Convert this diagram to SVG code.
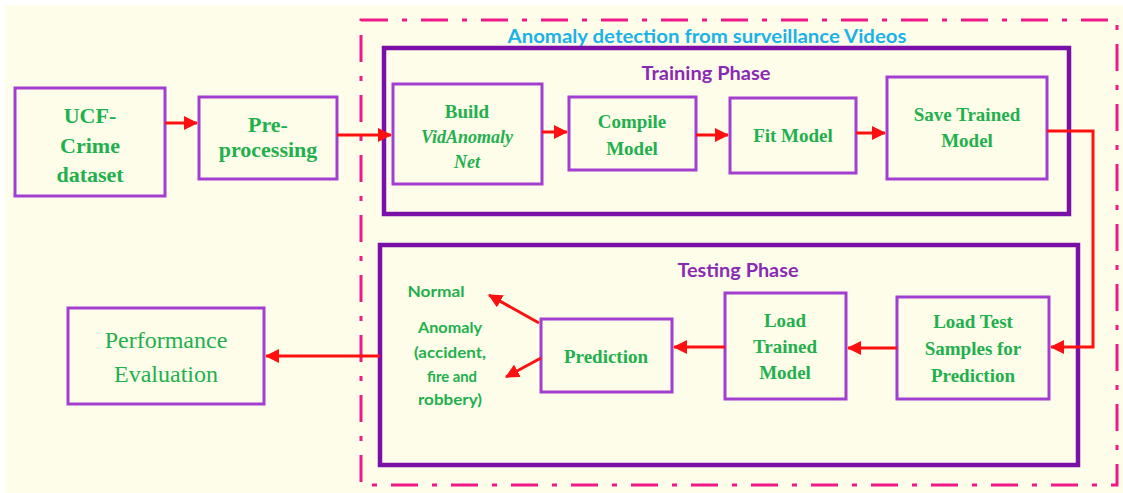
<svg xmlns="http://www.w3.org/2000/svg" width="1123" height="493" viewBox="0 0 1123 493">
  <style>
    .node { fill: none; stroke: #A23ED0; stroke-width: 3; }
    .phase { fill: none; stroke: #7B10A8; stroke-width: 4.5; }
    .lbl { font-family: "Liberation Serif", serif; font-weight: bold; fill: #22B04E; text-anchor: middle; }
    .small { font-family: Lato, "Open Sans", sans-serif; font-weight: bold; fill: #22B04E; text-anchor: middle; font-size: 16px; }
    .phaseTitle { font-family: Lato, "Open Sans", sans-serif; font-weight: bold; fill: #8A2AB4; text-anchor: middle; font-size: 18px; }
    .conn { fill: none; stroke: #FF1010; stroke-width: 3; }
  </style>
  <defs>
    <marker id="arrow" markerUnits="userSpaceOnUse" markerWidth="14" markerHeight="14" viewBox="0 0 14 14" refX="13" refY="7" orient="auto">
      <path d="M0,0 L14,7 L0,14 Z" fill="#FF1010"/>
    </marker>
  </defs>

  <!-- background -->
  <rect x="5" y="5" width="1118" height="488" fill="#FEFDE9"/>

  <!-- dash-dot frame around the detection stages -->
  <rect x="361" y="20" width="756" height="465" fill="none" stroke="#EE1A8A" stroke-width="3" stroke-dasharray="27 14 5 14"/>
  <text x="707" y="43" font-family="Lato, 'Open Sans', sans-serif" font-weight="bold" font-size="18" fill="#1BB2E8" text-anchor="middle" textLength="399" lengthAdjust="spacingAndGlyphs">Anomaly detection from surveillance Videos</text>

  <!-- phase containers -->
  <g id="training-phase">
    <rect class="phase" x="384" y="48" width="685" height="166"/>
    <text class="phaseTitle" x="706" y="80" textLength="129" lengthAdjust="spacingAndGlyphs">Training Phase</text>
  </g>
  <g id="testing-phase">
    <rect class="phase" x="380" y="245" width="698" height="220"/>
    <text class="phaseTitle" x="738" y="277" textLength="121" lengthAdjust="spacingAndGlyphs">Testing Phase</text>
  </g>

  <!-- nodes -->
  <g id="ucf-crime">
    <rect class="node" x="15" y="88" width="150" height="108"/>
    <text class="lbl" font-size="22" x="90" y="123">UCF-</text>
    <text class="lbl" font-size="22" x="90" y="153">Crime</text>
    <text class="lbl" font-size="22" x="90" y="182">dataset</text>
  </g>
  <g id="preprocessing">
    <rect class="node" x="199" y="97" width="138" height="82"/>
    <text class="lbl" font-size="22" x="268" y="132">Pre-</text>
    <text class="lbl" font-size="22" x="268" y="157">processing</text>
  </g>
  <g id="build">
    <rect class="node" x="393" y="84" width="149" height="100"/>
    <text class="lbl" font-size="19" x="467" y="118">Build</text>
    <text class="lbl" font-size="18" font-style="italic" x="467" y="143">VidAnomaly</text>
    <text class="lbl" font-size="18" font-style="italic" x="467" y="168">Net</text>
  </g>
  <g id="compile">
    <rect class="node" x="569" y="97" width="127" height="73"/>
    <text class="lbl" font-size="19" x="632" y="128">Compile</text>
    <text class="lbl" font-size="19" x="632" y="155">Model</text>
  </g>
  <g id="fit">
    <rect class="node" x="730" y="98" width="126" height="75"/>
    <text class="lbl" font-size="19" x="793" y="142">Fit Model</text>
  </g>
  <g id="save">
    <rect class="node" x="887" y="77" width="160" height="102"/>
    <text class="lbl" font-size="19" x="967" y="121">Save Trained</text>
    <text class="lbl" font-size="19" x="967" y="147">Model</text>
  </g>
  <g id="load-test">
    <rect class="node" x="897" y="297" width="152" height="102"/>
    <text class="lbl" font-size="19" x="973" y="328">Load Test</text>
    <text class="lbl" font-size="19" x="973" y="355">Samples for</text>
    <text class="lbl" font-size="19" x="973" y="382">Prediction</text>
  </g>
  <g id="load-trained">
    <rect class="node" x="725" y="293" width="121" height="106"/>
    <text class="lbl" font-size="19" x="785" y="327">Load</text>
    <text class="lbl" font-size="19" x="785" y="353">Trained</text>
    <text class="lbl" font-size="19" x="785" y="379">Model</text>
  </g>
  <g id="prediction">
    <rect class="node" x="541" y="319" width="131" height="73"/>
    <text class="lbl" font-size="19" x="606" y="363">Prediction</text>
  </g>
  <g id="outcomes">
    <text class="small" x="436" y="297" textLength="57" lengthAdjust="spacingAndGlyphs">Normal</text>
    <text class="small" x="450" y="333" textLength="64" lengthAdjust="spacingAndGlyphs">Anomaly</text>
    <text class="small" x="450" y="358" textLength="72" lengthAdjust="spacingAndGlyphs">(accident,</text>
    <text class="small" x="452" y="382" textLength="50" lengthAdjust="spacingAndGlyphs">fire and</text>
    <text class="small" x="450" y="405" textLength="64" lengthAdjust="spacingAndGlyphs">robbery)</text>
  </g>
  <g id="performance">
    <rect class="node" x="68" y="308" width="196" height="96"/>
    <text x="166" y="348" font-family="'Liberation Serif', serif" font-size="24" fill="#22B04E" text-anchor="middle">Performance</text>
    <text x="166" y="382" font-family="'Liberation Serif', serif" font-size="24" fill="#22B04E" text-anchor="middle">Evaluation</text>
  </g>

  <!-- connectors -->
  <g id="connectors">
    <line class="conn" x1="165" y1="123" x2="197" y2="123" marker-end="url(#arrow)"/>
    <line class="conn" x1="337" y1="135" x2="391" y2="135" marker-end="url(#arrow)"/>
    <line class="conn" x1="542" y1="132" x2="567" y2="132" marker-end="url(#arrow)"/>
    <line class="conn" x1="696" y1="135" x2="728" y2="135" marker-end="url(#arrow)"/>
    <line class="conn" x1="856" y1="133" x2="885" y2="133" marker-end="url(#arrow)"/>
    <polyline class="conn" stroke-width="2" points="1047,131 1093,131 1093,347 1051,347" marker-end="url(#arrow)"/>
    <line class="conn" x1="897" y1="348" x2="848" y2="348" marker-end="url(#arrow)"/>
    <line class="conn" x1="725" y1="347" x2="674" y2="347" marker-end="url(#arrow)"/>
    <line class="conn" x1="539" y1="323" x2="489" y2="295" marker-end="url(#arrow)"/>
    <line class="conn" x1="541" y1="358" x2="506" y2="377" marker-end="url(#arrow)"/>
    <line class="conn" x1="380" y1="356" x2="266" y2="356" marker-end="url(#arrow)"/>
  </g>
</svg>
